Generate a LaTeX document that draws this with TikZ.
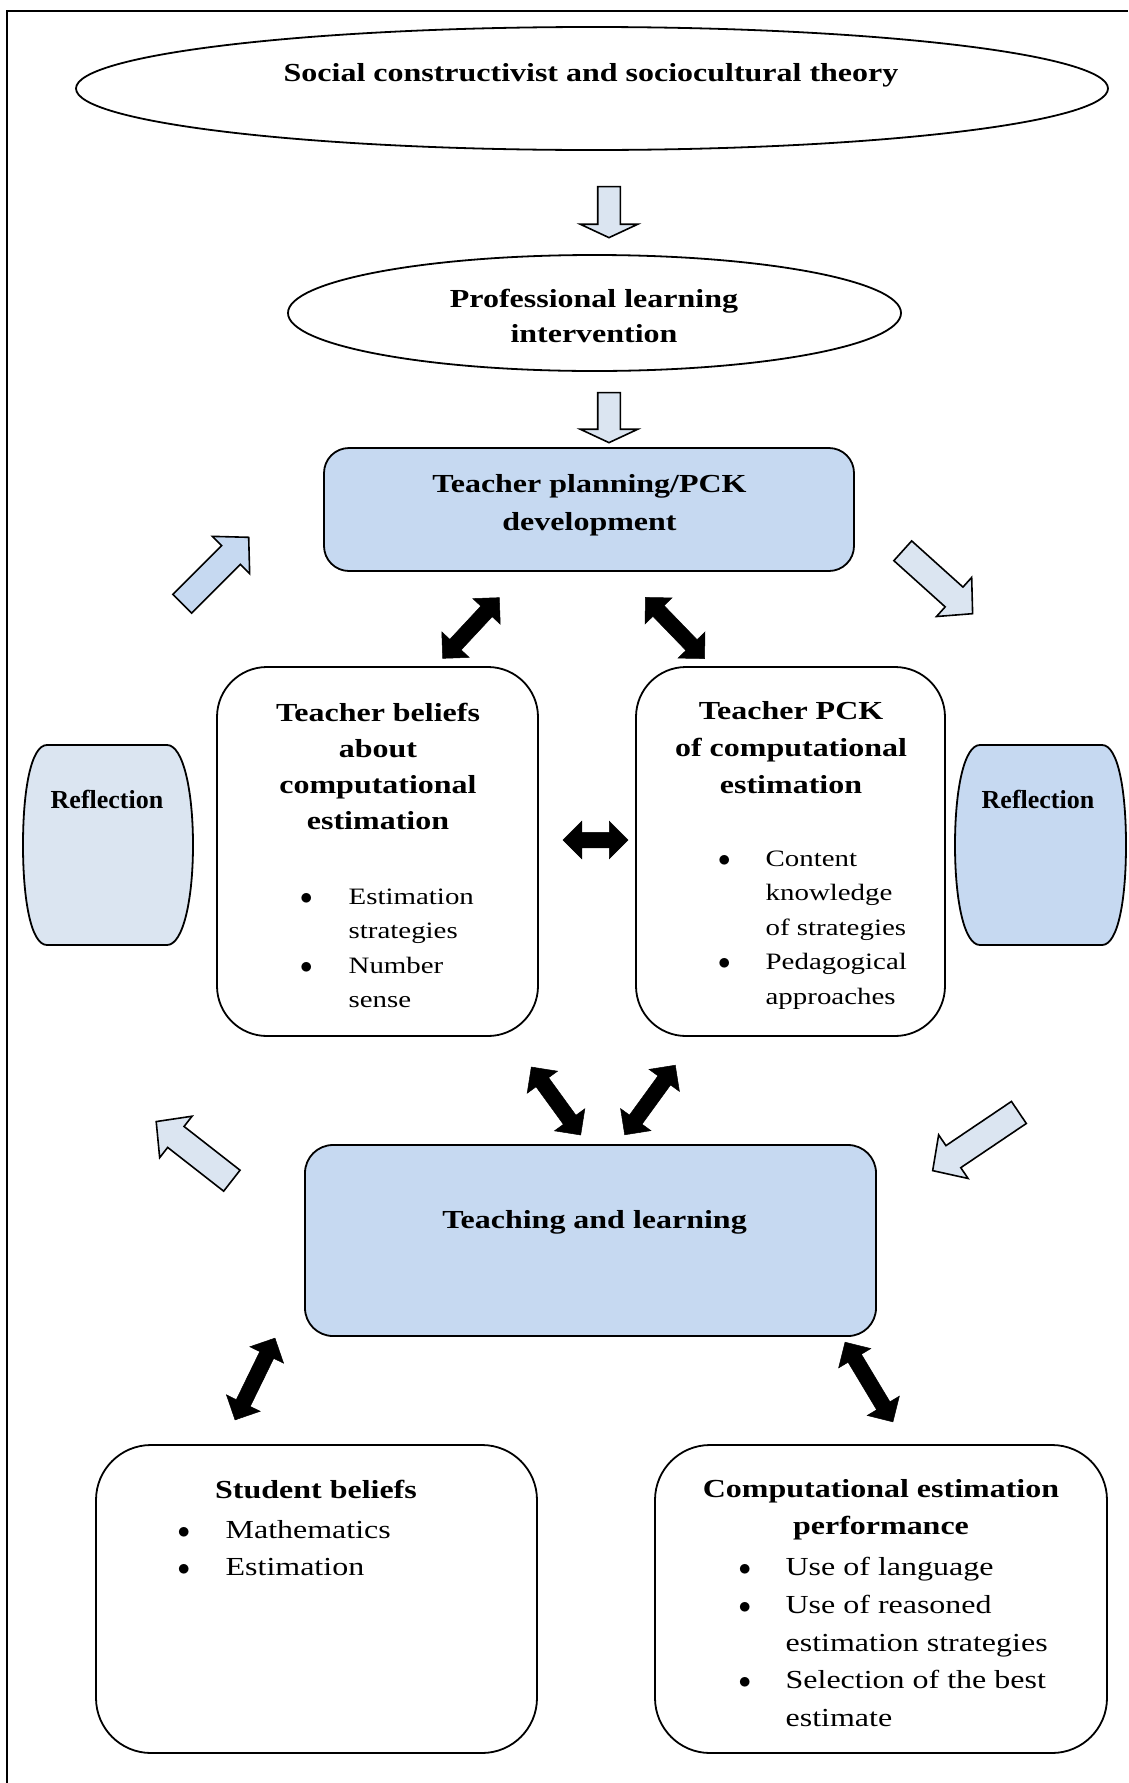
\documentclass[tikz,border=0pt]{standalone}
\usepackage{fontspec}
\setmainfont{Liberation Serif}[FakeStretch=1.23]
\newfontfamily\reflfont{Liberation Serif}
\usetikzlibrary{shapes.geometric,shapes.arrows}

\definecolor{paleblue}{HTML}{DBE5F1}
\definecolor{midblue}{HTML}{C6D9F1}

\tikzset{
  oval/.style={ellipse, draw, line width=1.8pt, inner sep=0pt},
  panel/.style={rectangle, draw, line width=1.8pt, inner sep=0pt, rounded corners=#1},
  hdr/.style={font=\fontsize{26}{#1}\selectfont\bfseries, align=center, inner sep=0pt},
  hdr/.default=36,
  refl/.style={font=\reflfont\bfseries\fontsize{26}{30}\selectfont, inner sep=0pt},
  smallitems/.style={font=\fontsize{23.5}{34.4}\selectfont, anchor=west, inner sep=0pt},
  bigitems/.style={font=\fontsize{26}{37.8}\selectfont, anchor=west, inner sep=0pt},
  blockarrow/.style={single arrow, draw, line width=1.6pt, fill=paleblue,
    inner xsep=0pt, inner ysep=12.5pt, minimum width=51pt,
    single arrow head extend=13pt, single arrow tip angle=93, minimum height=#1},
  downarrow/.style={single arrow, draw, line width=1.6pt, fill=paleblue, rotate=-90,
    inner xsep=0pt, inner ysep=10.5pt, minimum width=56pt,
    single arrow head extend=17.5pt, single arrow tip angle=130, minimum height=#1},
  linkarrow/.style={double arrow, draw, fill=black, line width=0.5pt,
    inner xsep=0pt, inner ysep=7.5pt, minimum width=37pt,
    double arrow head extend=11pt, double arrow tip angle=90, minimum height=#1}
}

\begin{document}
\begin{tikzpicture}[x=1pt, y=-1pt]
    \useasboundingbox (0,0) rectangle (1128,1783);
    % Marco
    \draw[line width=2pt] (7,1783) -- (7,11) -- (1128,11);

    % Ovalos de arriba
    \node[oval, minimum width=1032pt, minimum height=123pt] (theory) at (592,88.5) {};
    \node[hdr] (theorytxt) at (591,75) {Social constructivist and sociocultural theory};
    \node[downarrow=51pt] (down1) at (609,209.5) {};
    \node[oval, minimum width=613pt, minimum height=116pt] (interv) at (594.5,313) {};
    \node[hdr=35] (intervtxt) at (594,316) {Professional learning\\intervention};
    \node[downarrow=50pt] (down2) at (609,415) {};

    % Planificacion
    \node[panel=25pt, fill=midblue, minimum width=530pt, minimum height=123pt] (plan) at (589,509.5) {};
    \node[hdr=38] (plantxt) at (589.5,505.5) {Teacher planning/PCK\\development};

    % Creencias y PCK del profesor
    \node[panel=50pt, minimum width=321pt, minimum height=369pt] (beliefs) at (377.5,851.5) {};
    \node[hdr] (beliefstxt) at (378,766.5) {Teacher beliefs\\about\\computational\\estimation};
    \node[smallitems] (beliefslist) at (300,949) {\begin{tabular}{@{}l@{\hspace{36pt}}l@{}}
        $\bullet$ & Estimation\\ & strategies\\ $\bullet$ & Number\\ & sense\end{tabular}};
    \node[panel=50pt, minimum width=309pt, minimum height=369pt] (pck) at (790.5,851.5) {};
    \node[hdr=37] (pcktxt) at (791,748) {Teacher PCK\\of computational\\estimation};
    \node[smallitems] (pcklist) at (718,928.5) {\begin{tabular}{@{}l@{\hspace{35pt}}l@{}}
        $\bullet$ & Content\\ & knowledge\\ & of strategies\\ $\bullet$ & Pedagogical\\ & approaches\end{tabular}};

    % Reflexion
    \draw[line width=1.8pt, fill=paleblue] (47,745) -- (167,745) .. controls (183,745) and (193,790) .. (193,845)
        .. controls (193,900) and (183,945) .. (167,945) -- (47,945) .. controls (31,945) and (23,900) .. (23,845)
        .. controls (23,790) and (31,745) .. (47,745) -- cycle;
    \node[refl] (refl1) at (107,799) {Reflection};
    \draw[line width=1.8pt, fill=midblue] (980,745) -- (1102,745) .. controls (1118,745) and (1126,790) .. (1126,845)
        .. controls (1126,900) and (1118,945) .. (1102,945) -- (980,945) .. controls (964,945) and (955,900) .. (955,845)
        .. controls (955,790) and (964,745) .. (980,745) -- cycle;
    \node[refl] (refl2) at (1038,799) {Reflection};

    % Ensenanza y aprendizaje
    \node[panel=28pt, fill=midblue, minimum width=571pt, minimum height=191pt] (teach) at (590.5,1240.5) {};
    \node[hdr] (teachtxt) at (594.5,1222) {Teaching and learning};

    % Cajas de los estudiantes
    \node[panel=55pt, minimum width=441pt, minimum height=308pt] (stud) at (316.5,1599) {};
    \node[hdr] (studtxt) at (316,1489) {Student beliefs};
    \node[bigitems] (studlist) at (177.5,1549.5) {\begin{tabular}{@{}l@{\hspace{35.5pt}}l@{}}
        $\bullet$ & Mathematics\\ $\bullet$ & Estimation\end{tabular}};
    \node[panel=55pt, minimum width=452pt, minimum height=308pt] (perf) at (881,1599) {};
    \node[hdr=37] (perftxt) at (881,1510) {Computational estimation\\performance};
    \node[bigitems] (perflist) at (738.5,1643.5) {\begin{tabular}{@{}l@{\hspace{34.5pt}}l@{}}
        $\bullet$ & Use of language\\ $\bullet$ & Use of reasoned\\ & estimation strategies\\
        $\bullet$ & Selection of the best\\ & estimate\end{tabular}};

    % Flechas del ciclo
    \node[blockarrow=94pt, fill=midblue, rotate=45] (cyc1) at (211,575) {};
    \node[blockarrow=94pt, rotate=-42] (cyc2) at (933,578) {};
    \node[blockarrow=104pt, rotate=-146] (cyc3) at (981,1138) {};
    \node[blockarrow=96pt, rotate=142] (cyc4) at (199,1155) {};

    % Flechas dobles
    \node[linkarrow=83pt, rotate=47] (link1) at (471,628) {};
    \node[linkarrow=85pt, rotate=-46] (link2) at (675,628) {};
    \node[linkarrow=65pt] (link3) at (595.5,840) {};
    \node[linkarrow=84pt, rotate=-54] (link4) at (556,1101) {};
    \node[linkarrow=86pt, rotate=54] (link5) at (650,1100) {};
    \node[linkarrow=91pt, rotate=64] (link6) at (255,1379) {};
    \node[linkarrow=93pt, rotate=-59] (link7) at (869,1382) {};

\end{tikzpicture}
\end{document}
